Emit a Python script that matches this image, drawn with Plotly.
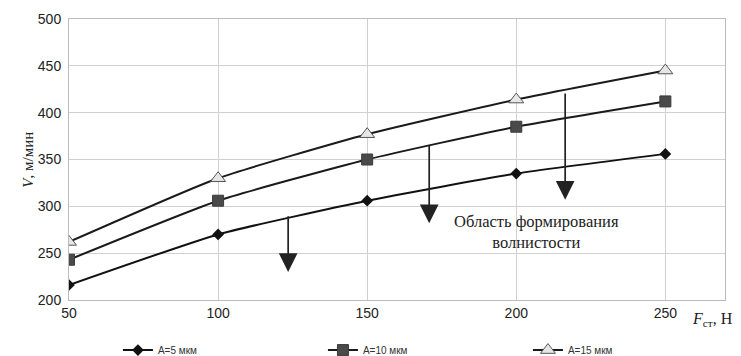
import plotly.graph_objects as go

force = [50, 100, 150, 200, 250]
v_a5 = [216, 270, 306, 335, 356]
v_a10 = [243, 306, 350, 385, 412]
v_a15 = [262, 330, 377, 414, 445]
series_names = ["A=5 мкм", "A=10 мкм", "A=15 мкм"]

fig = go.Figure()
fig.add_trace(go.Scatter(x=force, y=v_a5, name=series_names[0], mode="lines+markers",
                         line=dict(color="#111111", width=2, shape="spline", smoothing=0.5),
                         marker=dict(symbol="diamond", size=9, color="#111111")))
fig.add_trace(go.Scatter(x=force, y=v_a10, name=series_names[1], mode="lines+markers",
                         line=dict(color="#1a1a1a", width=2, shape="spline", smoothing=0.5),
                         marker=dict(symbol="square", size=11, color="#4a4a4a",
                                     line=dict(color="#3a3a3a", width=1))))
fig.add_trace(go.Scatter(x=force, y=v_a15, name=series_names[2], mode="lines+markers",
                         line=dict(color="#1a1a1a", width=2, shape="spline", smoothing=0.5),
                         marker=dict(symbol="triangle-up", size=13, color="#e6e6e6",
                                     line=dict(color="#555555", width=1))))

arrows = [(123.5, 291, 230), (170.8, 366, 282), (216.4, 422, 307)]
annotations = []
for xa, y0, y1 in arrows:
    annotations.append(dict(x=xa, y=y1, ax=xa, ay=y0, xref="x", yref="y", axref="x", ayref="y",
                            text="", showarrow=True, arrowhead=2, arrowsize=2.2, arrowwidth=1.7,
                            arrowcolor="#222222"))
annotations.append(dict(x=0.713, y=0.242, xref="paper", yref="paper", showarrow=False,
                        text="Область формирования<br>волнистости", align="center",
                        xanchor="center", yanchor="middle",
                        font=dict(family="Liberation Serif", size=16.5, color="#222222")))
annotations.append(dict(x=-0.079, y=0.5, xref="paper", yref="paper", showarrow=False,
                        text="<i>V</i>, м/мин", textangle=-90,
                        font=dict(family="Liberation Serif", size=15, color="#222222")))
annotations.append(dict(x=1.016, y=-0.071, xref="paper", yref="paper", showarrow=False,
                        xanchor="right", yanchor="middle",
                        text="<i>F</i><sub>ст</sub>, Н",
                        font=dict(family="Liberation Serif", size=16, color="#222222")))

fig.update_layout(
    width=733, height=348,
    margin=dict(l=61, r=16, t=11, b=56, autoexpand=False),
    plot_bgcolor="white", paper_bgcolor="white",
    font=dict(family="Liberation Sans", color="#222222"),
    showlegend=True,
    legend=dict(orientation="h", x=0.15, y=0.017, xref="container", yref="container",
                xanchor="left", yanchor="middle", entrywidth=160, entrywidthmode="pixels",
                font=dict(size=10, color="#333333"), bgcolor="rgba(0,0,0,0)",
                itemwidth=30),
    annotations=annotations,
)
fig.update_xaxes(range=[50, 270], tickvals=force, ticktext=[str(v) for v in force],
                 showgrid=True, gridcolor="#d0d0d0", gridwidth=1, automargin=False,
                 showline=True, linecolor="#bbbbbb", mirror=True, zeroline=False,
                 ticks="", tickfont=dict(size=14, color="#222222"))
fig.update_yaxes(range=[200, 500], dtick=50, showgrid=True, gridcolor="#d0d0d0", gridwidth=1,
                 automargin=False, ticklabelstandoff=4,
                 showline=True, linecolor="#bbbbbb", mirror=True, zeroline=False,
                 ticks="", tickfont=dict(size=14, color="#222222"))

fig.write_html("out.html")
